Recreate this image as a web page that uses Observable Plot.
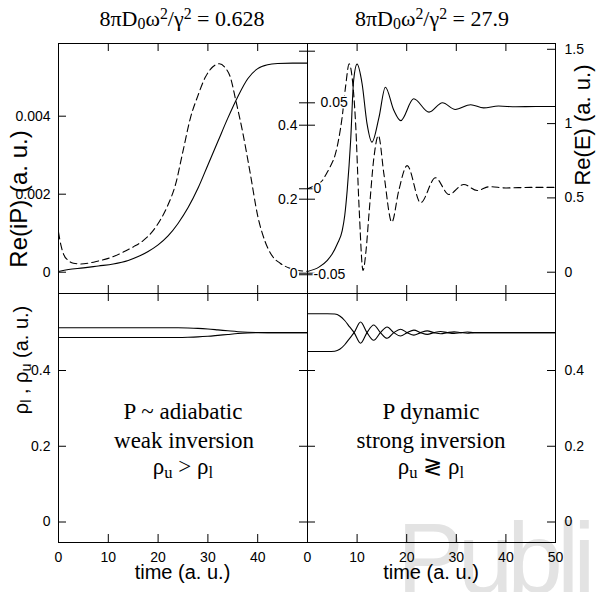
<!DOCTYPE html>
<html><head><meta charset="utf-8">
<script src="https://cdn.jsdelivr.net/npm/d3@7"></script>
<script src="https://cdn.jsdelivr.net/npm/@observablehq/plot@0.6"></script>
<style>
body{margin:0;background:#fff}
#fig{position:relative;width:597px;height:592px;overflow:hidden;background:#fff}
#fig svg{position:absolute;left:0;top:0;overflow:visible}
.lab{position:absolute;white-space:nowrap;line-height:1;transform:translate(-50%,-50%);color:#000}
.serif{font-family:"Liberation Serif","Times New Roman",serif}
.sans{font-family:"Liberation Sans",Arial,sans-serif}
.rot{transform:translate(-50%,-50%) rotate(-90deg)}
.sb{font-size:0.72em;vertical-align:-0.22em}
.sp{font-size:0.72em;vertical-align:0.45em}
#wm{position:absolute;font-family:"Liberation Sans",Arial,sans-serif;font-size:100px;letter-spacing:-6px;line-height:1;color:#e3e3e3;white-space:nowrap}
</style></head>
<body><div id="fig"><div id="wm" style="left:397px;top:508px">Publi</div></div>
<script>
// ---------- data ----------
const xTicks = [0, 10, 20, 30, 40, 50];
const xLabelsLeft = [0, 10, 20, 30, 40];
const xLabelsRight = [0, 10, 20, 30, 40, 50];

// top-left: Re(iP) solid
const tPL = [0, 2, 5, 8, 11, 14, 16, 18, 20, 22, 24, 26, 28, 30, 32, 34, 36, 38, 40, 42, 44, 47, 50];
const rePL = [0.00002, 0.00007, 0.00011, 0.00016, 0.00021, 0.00030, 0.00040, 0.00053, 0.00070, 0.00093, 0.00125, 0.00165, 0.00215, 0.00275, 0.00335, 0.00395, 0.00450, 0.00496, 0.00522, 0.00532, 0.00535, 0.00536, 0.00536];
// top-left: Re(E) dashed
const tEL = [0, 0.5, 1, 2, 3, 4.5, 6, 8, 10, 13, 15, 17, 19, 20.5, 22, 23.5, 25, 26.5, 28, 29.5, 31, 32.3, 33.5, 34.5, 35.6, 37, 38.5, 40, 41.5, 43, 44.5, 46.5, 48, 50];
const reEL = [0.111, 0.075, 0.052, 0.034, 0.027, 0.025, 0.027, 0.033, 0.040, 0.057, 0.071, 0.088, 0.115, 0.145, 0.185, 0.24, 0.33, 0.42, 0.48, 0.53, 0.558, 0.566, 0.555, 0.53, 0.467, 0.38, 0.27, 0.155, 0.085, 0.045, 0.027, 0.013, 0.008, 0.005];
// top-right: Re(E) solid
const tER = [0, 2.3, 4, 5, 6, 7, 7.5, 8, 8.7, 9.3, 10, 11, 12, 13, 14.4, 15.7, 17.4, 18.8, 21.4, 24.5, 27.2, 29.8, 32.9, 35.5, 38.5, 42, 46, 50];
const reER = [0.005, 0.034, 0.08, 0.124, 0.19, 0.28, 0.38, 0.55, 0.886, 1.29, 1.40, 1.27, 1.0, 0.875, 1.04, 1.245, 1.09, 1.02, 1.167, 1.077, 1.14, 1.095, 1.127, 1.106, 1.118, 1.113, 1.115, 1.115];
// top-right: Re(iP) dashed
const tPR = [0, 1.5, 3, 3.6, 4.6, 5.6, 6.3, 7, 7.7, 8.4, 9.1, 9.7, 10.4, 11.2, 11.8, 12.4, 13.4, 14.3, 15.4, 17, 18.4, 20.1, 22.8, 25.8, 28.5, 31.5, 34.2, 36.7, 40, 45, 50];
const rePR = [0.0, 0.002, 0.0048, 0.0077, 0.013, 0.020, 0.029, 0.042, 0.060, 0.0727, 0.062, 0.038, -0.0107, -0.0475, -0.036, -0.0145, 0.0184, 0.031, 0.0087, -0.0194, -0.001, 0.0135, -0.0081, 0.0064, -0.0033, 0.0025, -0.001, 0.0012, 0.0005, 0.0008, 0.0008];
// bottom-left: populations
const tRL = [0, 10, 20, 24, 26, 28, 30, 32, 34, 36, 38, 40, 42, 45, 50];
const rhoUL = [0.513, 0.513, 0.513, 0.5128, 0.5122, 0.5112, 0.5095, 0.5072, 0.5048, 0.5025, 0.501, 0.5003, 0.5, 0.5, 0.5];
const rhoLL = [0.487, 0.487, 0.487, 0.4872, 0.4878, 0.4888, 0.4905, 0.4928, 0.4952, 0.4975, 0.499, 0.4997, 0.5, 0.5, 0.5];
// bottom-right: populations
const tRR = [0, 4, 5.5, 6.5, 7.5, 8.5, 9.4, 10.7, 12.0, 13.35, 14.7, 16.05, 17.4, 18.75, 20.1, 21.45, 22.8, 24.15, 25.5, 26.85, 28.2, 29.55, 30.9, 32.25, 33.6, 36, 50];
const rhoUR = [0.55, 0.55, 0.549, 0.544, 0.532, 0.515, 0.5, 0.472, 0.5, 0.52, 0.5, 0.485, 0.5, 0.509, 0.5, 0.4935, 0.5, 0.5045, 0.5, 0.497, 0.5, 0.502, 0.5, 0.4985, 0.5, 0.5, 0.5];
const rhoLR = [0.45, 0.45, 0.451, 0.456, 0.468, 0.485, 0.5, 0.528, 0.5, 0.48, 0.5, 0.515, 0.5, 0.491, 0.5, 0.5065, 0.5, 0.4955, 0.5, 0.503, 0.5, 0.498, 0.5, 0.5015, 0.5, 0.5, 0.5];

// tick values
const ticksPL = [0, 0.002, 0.004];
const ticksEL = [0, 0.2, 0.4, 0.6];
const labelsEL = [0, 0.2, 0.4];
const ticksPR = [-0.05, 0, 0.05];
const ticksER = [0, 0.5, 1, 1.5];
const ticksRho = [0, 0.2, 0.4];

// ---------- layout ----------
const W = 597, H = 592;
const xL = 58, xM = 307, xR = 555, yT = 43, yM = 293, yB = 542;
const TK = 8; // tick length
const fig = document.getElementById("fig");
const zip = (xs, ys) => xs.map((x, i) => ({x, y: ys[i]}));

function panel(x0, x1, y0, y1, yDomain, marks) {
  return Plot.plot({
    width: W, height: H,
    marginLeft: x0, marginRight: W - x1, marginTop: y0, marginBottom: H - y1,
    x: {domain: [0, 50], axis: null},
    y: {domain: yDomain, axis: null},
    style: {background: "transparent", fontFamily: "Liberation Sans, Arial, sans-serif", fontSize: "14px", color: "black", overflow: "visible"},
    marks
  });
}
const lineOpt = {x: "x", y: "y", stroke: "black", strokeWidth: 1.1, curve: "monotone-x"};
const dashOpt = {...lineOpt, strokeDasharray: "7,4"};
const halo = {stroke: "white", strokeWidth: 3, fill: "black", fontSize: 14};
const fmt = d => String(d);

const wL = xM - xL, wR = xR - xM, hT = yM - yT, hB = yB - yM;

// top-left, Re(iP)
const pTLP = panel(xL, xM, yT, yM, [-0.000546, 0.005864], [
  Plot.line(zip(tPL, rePL), lineOpt),
  Plot.tickY(ticksPL, {y: d => d, insetRight: wL - TK}),
  Plot.axisY(ticksPL, {anchor: "left", tickSize: 0, tickPadding: 8, tickFormat: fmt, fontSize: 14, label: null}),
  Plot.tickX(xTicks, {x: d => d, insetBottom: hT - TK}),
  Plot.tickX(xTicks, {x: d => d, insetTop: hT - TK}),
  Plot.frame({stroke: "black"})
]);
// top-left, Re(E)
const pTLE = panel(xL, xM, yT, yM, [-0.0549, 0.6208], [
  Plot.line(zip(tEL, reEL), dashOpt),
  Plot.tickY(ticksEL, {y: d => d, insetLeft: wL - TK, insetRight: -TK}),
  Plot.text(labelsEL, {y: d => d, text: fmt, frameAnchor: "right", textAnchor: "end", dx: -10, ...halo})
]);
// top-right, Re(iP)
const pTRP = panel(xM, xR, yT, yM, [-0.0609, 0.0845], [
  Plot.line(zip(tPR, rePR), dashOpt),
  Plot.tickY(ticksPR, {y: d => d, insetRight: wR - TK, insetLeft: -TK}),
  Plot.text(ticksPR, {y: d => d, text: d => (d > 0 ? "\u2002" : "") + String(d), frameAnchor: "left", textAnchor: "start", dx: 6, ...halo})
]);
// top-right, Re(E)
const pTRE = panel(xM, xR, yT, yM, [-0.1433, 1.539], [
  Plot.line(zip(tER, reER), lineOpt),
  Plot.tickY(ticksER, {y: d => d, insetLeft: wR - TK}),
  Plot.axisY(ticksER, {anchor: "right", tickSize: 0, tickPadding: 9, tickFormat: fmt, fontSize: 14, label: null}),
  Plot.tickX(xTicks, {x: d => d, insetBottom: hT - TK}),
  Plot.tickX(xTicks, {x: d => d, insetTop: hT - TK}),
  Plot.frame({stroke: "black"})
]);
// bottom-left
const rhoDom = [-0.0541, 0.6033];
const pBL = panel(xL, xM, yM, yB, rhoDom, [
  Plot.line(zip(tRL, rhoUL), lineOpt),
  Plot.line(zip(tRL, rhoLL), lineOpt),
  Plot.tickY(ticksRho, {y: d => d, insetRight: wL - TK}),
  Plot.tickY(ticksRho, {y: d => d, insetLeft: wL - TK, insetRight: -TK}),
  Plot.axisY(ticksRho, {anchor: "left", tickSize: 0, tickPadding: 8, tickFormat: fmt, fontSize: 14, label: null}),
  Plot.tickX(xTicks, {x: d => d, insetBottom: hB - TK}),
  Plot.tickX(xTicks, {x: d => d, insetTop: hB - TK}),
  Plot.axisX(xLabelsLeft, {anchor: "bottom", tickSize: 0, tickPadding: 10, tickFormat: fmt, fontSize: 14, label: null}),
  Plot.frame({stroke: "black"})
]);
// bottom-right
const pBR = panel(xM, xR, yM, yB, rhoDom, [
  Plot.line(zip(tRR, rhoUR), lineOpt),
  Plot.line(zip(tRR, rhoLR), lineOpt),
  Plot.tickY(ticksRho, {y: d => d, insetLeft: wR - TK}),
  Plot.axisY(ticksRho, {anchor: "right", tickSize: 0, tickPadding: 9, tickFormat: fmt, fontSize: 14, label: null}),
  Plot.tickX(xTicks, {x: d => d, insetBottom: hB - TK}),
  Plot.tickX(xTicks, {x: d => d, insetTop: hB - TK}),
  Plot.axisX(xLabelsRight, {anchor: "bottom", tickSize: 0, tickPadding: 10, tickFormat: fmt, fontSize: 14, label: null}),
  Plot.frame({stroke: "black"})
]);
[pTLP, pTLE, pTRP, pTRE, pBL, pBR].forEach(p => fig.appendChild(p));

// ---------- text ----------
function label(html, cls, x, y, size) {
  const d = document.createElement("div");
  d.className = "lab " + cls;
  d.style.left = x + "px"; d.style.top = y + "px"; d.style.fontSize = size + "px";
  d.innerHTML = html;
  fig.appendChild(d);
}
const titleHead = '8πD<span class="sb">0</span>ω<span class="sp">2</span>/γ<span class="sp">2</span> = ';
label(titleHead + "0.628", "serif", 182, 19, 22);
label(titleHead + "27.9", "serif", 432, 19, 22);
label("time (a. u.)", "sans", 182.5, 572, 20);
label("time (a. u.)", "sans", 431, 572, 20);
label("Re(iP) (a. u.)", "sans rot", 19, 199, 24);
label("Re(E) (a. u.)", "sans rot", 583, 125, 22);
label('ρ<span class="sb">l</span> , ρ<span class="sb">u</span> (a. u.)', "sans rot", 22, 360, 20);
label("P ~ adiabatic", "serif", 183, 411, 23);
label("weak inversion", "serif", 184, 440, 23);
label('ρ<span class="sb">u</span> &gt; ρ<span class="sb">l</span>', "serif", 183, 468, 23);
label("P dynamic", "serif", 431, 411, 23);
label("strong inversion", "serif", 431, 440, 23);
label('ρ<span class="sb">u</span> ≷ ρ<span class="sb">l</span>', "serif", 431, 468, 23);
</script>
</body></html>
